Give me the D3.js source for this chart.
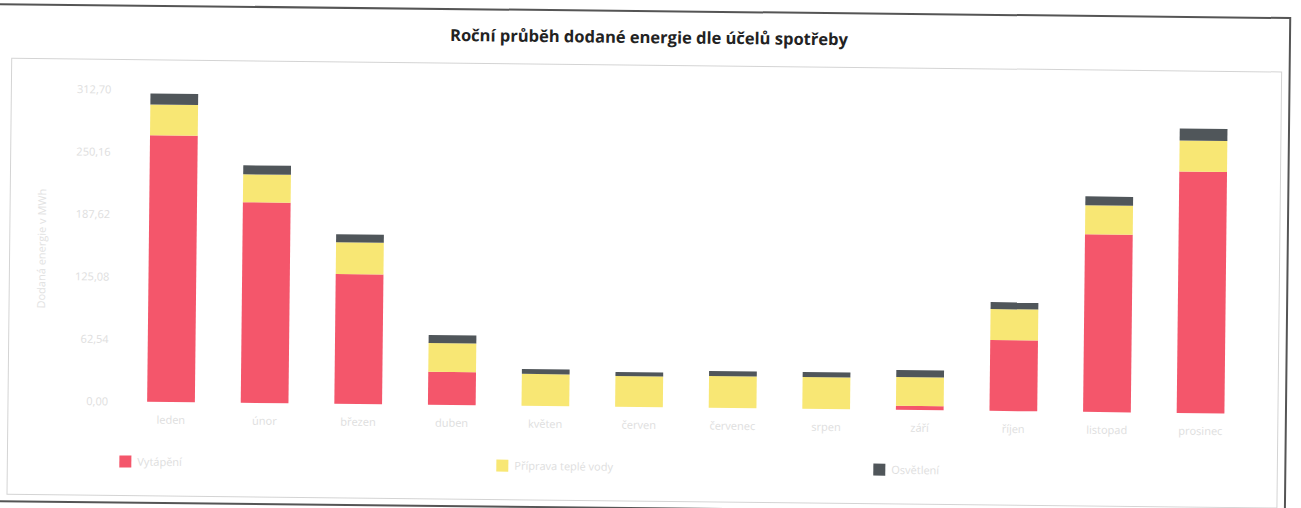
<!DOCTYPE html>
<html>
<head>
<meta charset="utf-8">
<script src="https://d3js.org/d3.v7.min.js"></script>
<style>
  body { margin: 0; background: #ffffff; }
  text { font-family: "Open Sans", sans-serif; }
</style>
</head>
<body>
<svg width="1301" height="508"></svg>
<script>
// values (MWh)
var months = ['leden', 'únor', 'březen', 'duben', 'květen', 'červen', 'červenec', 'srpen', 'září', 'říjen', 'listopad', 'prosinec'];
var heating = [267, 201, 130, 33, 0, 0, 0, 0, 4, 71, 178, 242];
var hotWater = [31, 28, 32, 29, 32, 31, 32, 32, 29, 31, 29, 31];
var lighting = [11, 9, 8, 8, 5, 4, 5, 5, 7, 7, 9, 12];
var yTicks = [0, 62.54, 125.08, 187.62, 250.16, 312.7];
var seriesNames = ['Vytápění', 'Příprava teplé vody', 'Osvětlení'];
var seriesColors = ['#f4566b', '#f8e774', '#50565a'];

var svg = d3.select('svg');
// the page was scanned slightly rotated
var g = svg.append('g').attr('transform', 'rotate(0.62, 171, 402)');

g.append('rect')
  .attr('x', -10).attr('y', 6).attr('width', 1296).attr('height', 497)
  .attr('fill', 'none').attr('stroke', '#555').attr('stroke-width', 2);
g.append('rect')
  .attr('x', 8).attr('y', 60).attr('width', 1270).attr('height', 436)
  .attr('fill', 'none').attr('stroke', '#d4d4d4').attr('stroke-width', 1);

g.append('text')
  .attr('x', 645).attr('y', 38)
  .attr('text-anchor', 'middle')
  .style('font-size', '16.5px').style('font-weight', 'bold').style('fill', '#222')
  .text('Roční průběh dodané energie dle účelů spotřeby');

var x = d3.scaleBand().domain(months).range([124.2, 1247.4]).paddingInner(0.49).paddingOuter(0.245);
var y = d3.scaleLinear().domain([0, 312.7]).range([402, 90]);

var rows = months.map(function(m, i) {
  return { month: m, 'Vytápění': heating[i], 'Příprava teplé vody': hotWater[i], 'Osvětlení': lighting[i] };
});
var stack = d3.stack().keys(seriesNames)(rows);

g.selectAll('g.series')
  .data(stack).enter().append('g')
  .attr('fill', function(d, i) { return seriesColors[i]; })
  .selectAll('rect')
  .data(function(d) { return d; }).enter().append('rect')
  .attr('x', function(d) { return x(d.data.month); })
  .attr('width', x.bandwidth())
  .attr('y', function(d) { return y(d[1]); })
  .attr('height', function(d) { return y(d[0]) - y(d[1]); });

var yAxis = g.append('g')
  .attr('transform', 'translate(114,0)')
  .call(d3.axisLeft(y).tickValues(yTicks).tickSize(0).tickPadding(6)
        .tickFormat(function(d) { return d3.format('.2f')(d).replace('.', ','); }));
yAxis.select('.domain').remove();
yAxis.selectAll('text').style('font-size', '11px').style('fill', '#dedede').style('font-family', 'Open Sans');

g.append('text')
  .attr('transform', 'translate(44,250) rotate(-90)')
  .attr('text-anchor', 'middle')
  .style('font-size', '11px').style('fill', '#e2e2e2')
  .text('Dodaná energie v MWh');

var xAxis = g.append('g')
  .attr('transform', 'translate(0,408)')
  .call(d3.axisBottom(x).tickSize(0).tickPadding(8));
xAxis.select('.domain').remove();
xAxis.selectAll('text').style('font-size', '11px').style('fill', '#dedede').style('font-family', 'Open Sans');

var legendX = [120, 497, 874];
var legend = g.selectAll('g.legend')
  .data(seriesNames).enter().append('g')
  .attr('transform', function(d, i) { return 'translate(' + legendX[i] + ',456)'; });
legend.append('rect')
  .attr('width', 12).attr('height', 12)
  .attr('fill', function(d, i) { return seriesColors[i]; });
legend.append('text')
  .attr('x', 18).attr('y', 10)
  .style('font-size', '11px').style('fill', '#dedede')
  .text(function(d) { return d; });
</script>
</body>
</html>
